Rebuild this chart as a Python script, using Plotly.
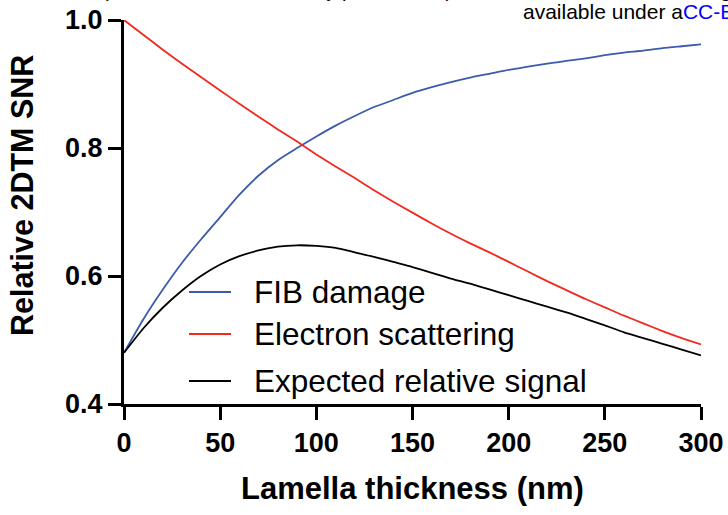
import plotly.graph_objects as go

# Lamella thickness grid (nm)
thickness_nm = [0, 10, 20, 30, 40, 50, 60, 70, 80, 90, 100, 110, 120, 130, 140, 150,
                160, 170, 180, 190, 200, 210, 220, 230, 240, 250, 260, 270, 280, 290, 300]

# Relative SNR retained after FIB damage
fib_damage = [0.480, 0.532, 0.578, 0.620, 0.657, 0.692, 0.727, 0.757, 0.781, 0.800, 0.818,
              0.835, 0.850, 0.864, 0.875, 0.886, 0.895, 0.903, 0.910, 0.916, 0.922,
              0.927, 0.932, 0.936, 0.940, 0.945, 0.949, 0.952, 0.956, 0.959, 0.962]

# Relative SNR retained after electron scattering
electron_scattering = [1.000, 0.977, 0.954, 0.932, 0.911, 0.890, 0.869, 0.849, 0.829, 0.810, 0.790,
                       0.771, 0.753, 0.734, 0.716, 0.699, 0.682, 0.666, 0.651, 0.637, 0.622,
                       0.607, 0.592, 0.578, 0.564, 0.551, 0.538, 0.526, 0.514, 0.503, 0.493]

# Combined expected relative signal
expected_signal = [0.480, 0.518, 0.550, 0.577, 0.600, 0.618, 0.631, 0.640, 0.646, 0.648, 0.647,
                   0.644, 0.637, 0.630, 0.622, 0.614, 0.605, 0.596, 0.588, 0.579, 0.570,
                   0.561, 0.552, 0.543, 0.533, 0.523, 0.512, 0.503, 0.494, 0.485, 0.476]

series_names = ["FIB damage", "Electron scattering", "Expected relative signal"]
series_values = [fib_damage, electron_scattering, expected_signal]
series_colors = ["#3b5bab", "#f1291e", "#000000"]

x_ticks = [0, 50, 100, 150, 200, 250, 300]
y_ticks = [0.4, 0.6, 0.8, 1.0]

FONT = "Liberation Sans, Arial, sans-serif"

fig = go.Figure()
for name, vals, col in zip(series_names, series_values, series_colors):
    fig.add_trace(go.Scatter(x=thickness_nm, y=vals, mode="lines", name=name,
                             line=dict(color=col, width=1.8, shape="spline", smoothing=0.6),
                             showlegend=False))

# plot-area geometry (pixels) used to place the legend and titles
W, H = 728, 515
L, R, T, B = 124, 27, 20, 111
pw, ph = W - L - R, H - T - B


def px_x(px):
    return (px - L) / pw


def px_y(py):
    return (H - B - py) / ph


shapes = []
annotations = []

# hand-drawn legend
legend_rows = [292, 334, 381]
for name, col, py in zip(series_names, series_colors, legend_rows):
    shapes.append(dict(type="line", xref="paper", yref="paper",
                       x0=px_x(189), x1=px_x(231), y0=px_y(py), y1=px_y(py),
                       line=dict(color=col, width=1.8)))
    annotations.append(dict(text=name, xref="paper", yref="paper", x=px_x(252), y=px_y(py),
                            xanchor="left", yanchor="middle", showarrow=False,
                            font=dict(family=FONT, size=31.5, color="black")))

# axis titles
annotations.append(dict(text="Lamella thickness (nm)", xref="paper", yref="paper",
                        x=0.5, y=px_y(488), xanchor="center", yanchor="middle", showarrow=False,
                        font=dict(family=FONT, size=31, color="black", weight="bold")))
annotations.append(dict(text="Relative 2DTM SNR", xref="paper", yref="paper",
                        x=px_x(22), y=px_y(196), xanchor="center", yanchor="middle",
                        textangle=-90, showarrow=False,
                        font=dict(family=FONT, size=30.5, color="black", weight="bold")))

# preprint header lines along the top edge
annotations.append(dict(text="(which was not certified by peer review) is the author/funder, who has granted "
                             "bioRxiv a license to display the preprint in perpetuity. It is made",
                        xref="paper", yref="paper", x=px_x(100), y=px_y(-10),
                        xanchor="left", yanchor="middle", showarrow=False,
                        font=dict(family=FONT, size=20, color="black")))
annotations.append(dict(text="available under a<span style='color:#0000ff'>CC-BY 4.0 International license.</span>",
                        xref="paper", yref="paper", x=px_x(521), y=px_y(11),
                        xanchor="left", yanchor="middle", showarrow=False,
                        font=dict(family=FONT, size=21, color="black")))

axis_common = dict(showline=True, linecolor="black", linewidth=3, ticks="outside",
                   ticklen=13, tickwidth=3, tickcolor="black", showgrid=False, zeroline=False,
                   tickfont=dict(family=FONT, size=27, color="black", weight="bold"))

fig.update_layout(
    width=W, height=H,
    margin=dict(l=L, r=R, t=T, b=B, pad=0, autoexpand=False),
    paper_bgcolor="white", plot_bgcolor="white",
    xaxis=dict(range=[0, 300], tickvals=x_ticks, ticktext=[str(v) for v in x_ticks], **axis_common),
    yaxis=dict(range=[0.4, 1.0], tickvals=y_ticks, ticktext=[f"{v:.1f}" for v in y_ticks], **axis_common),
    shapes=shapes,
    annotations=annotations,
)

fig.write_html("out.html")
